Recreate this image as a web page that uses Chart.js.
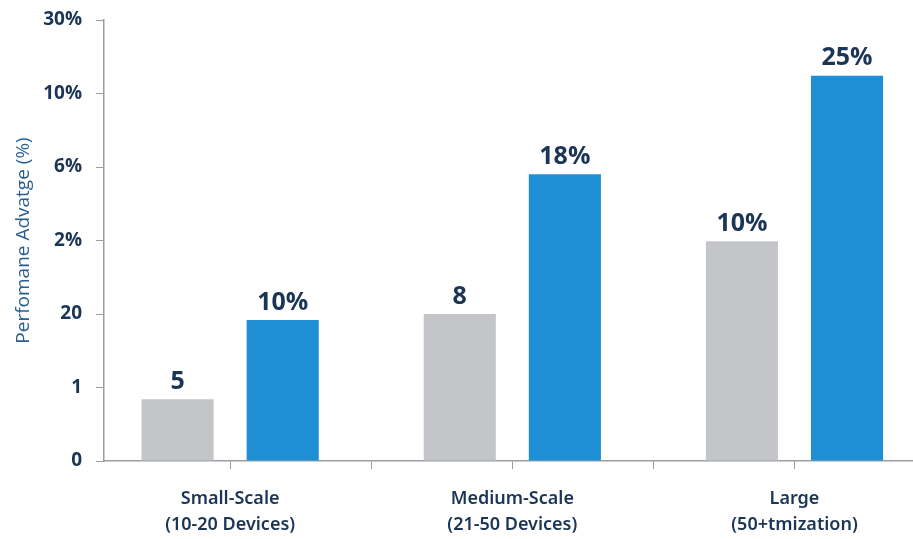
<!DOCTYPE html>
<html>
<head>
<meta charset="utf-8">
<script src="https://cdn.jsdelivr.net/npm/chart.js@4/dist/chart.umd.min.js"></script>
<style>
  html, body { margin: 0; padding: 0; background: #fff; }
  #wrap { width: 913px; height: 539px; }
</style>
</head>
<body>
<div id="wrap"><canvas id="myChart"></canvas></div>
<script>
//data
const categories = [["Small-Scale", "(10-20 Devices)"], ["Medium-Scale", "(21-50 Devices)"], ["Large", "(50+tmization)"]];
const yTickLabels = ["0", "1", "20", "2%", "6%", "10%", "30%"];
const grayValues = [0.84, 2.0, 2.99];
const blueValues = [1.92, 3.9, 5.24];
const grayLabels = ["5", "8", "10%"];
const blueLabels = ["10%", "18%", "25%"];

const navy = "#1b3556";

function points(vals) {
    return vals.map((v, i) => ({ x: i + 1, y: v }));
}

//value labels above bars
const barText = {
    id: "barText",
    afterDatasetsDraw(chart) {
        const ctx = chart.ctx;
        ctx.save();
        ctx.fillStyle = navy;
        ctx.font = "bold 25px 'Open Sans'";
        ctx.textAlign = "center";
        ctx.textBaseline = "bottom";
        chart.data.datasets.forEach((ds, di) => {
            chart.getDatasetMeta(di).data.forEach((bar, i) => {
                ctx.fillText(ds.valueLabels[i], bar.x, bar.y - 5);
            });
        });
        ctx.restore();
    }
};

const ctx = document.getElementById("myChart").getContext("2d");
const chart = new Chart(ctx, {
    type: "bar",
    data: {
        datasets: [{
            data: points(grayValues),
            valueLabels: grayLabels,
            backgroundColor: "#c3c5c8",
            categoryPercentage: 1.49,
            barPercentage: 0.686
        }, {
            data: points(blueValues),
            valueLabels: blueLabels,
            backgroundColor: "#1e8fd5",
            categoryPercentage: 1.49,
            barPercentage: 0.686
        }]
    },
    options: {
        responsive: true,
        maintainAspectRatio: false,
        animation: false,
        layout: { padding: { top: 20, left: 0, right: 0, bottom: 0 } },
        plugins: { legend: { display: false }, tooltip: { enabled: false } },
        scales: {
            x: {
                type: "linear",
                offset: false,
                min: 0.553,
                max: 3.42,
                afterBuildTicks: s => {
                    s.ticks = [1, 1.5, 2, 2.5, 3].map(v => ({ value: v }));
                },
                afterFit: s => { s.height = 78; },
                ticks: {
                    autoSkip: false,
                    maxRotation: 0,
                    color: navy,
                    font: { family: "'Noto Sans'", size: 18, weight: "600", lineHeight: 1.45 },
                    padding: 17,
                    callback: v => Number.isInteger(v) ? categories[v - 1] : ""
                },
                grid: { offset: false, drawOnChartArea: false, drawTicks: true, tickLength: 8, color: "#9a9ea3" },
                border: { color: "#9a9ea3", width: 1.5 }
            },
            y: {
                min: 0,
                max: 6,
                afterFit: s => { s.width = 104; s.paddingTop = 0; s.paddingBottom = 0; },
                ticks: {
                    stepSize: 1,
                    color: navy,
                    font: { family: "'Open Sans'", size: 19, weight: "bold" },
                    padding: 14,
                    callback: v => yTickLabels[v]
                },
                title: {
                    display: true,
                    text: "Perfomane Advatge (%)",
                    color: "#2a5e92",
                    font: { family: "'Open Sans'", size: 19 },
                    padding: { top: 12, bottom: 0 }
                },
                grid: { drawOnChartArea: false, drawTicks: true, tickLength: 8, color: "#9a9ea3" },
                border: { color: "#9a9ea3", width: 1.5 }
            }
        }
    },
    plugins: [barText]
});
</script>
</body>
</html>
